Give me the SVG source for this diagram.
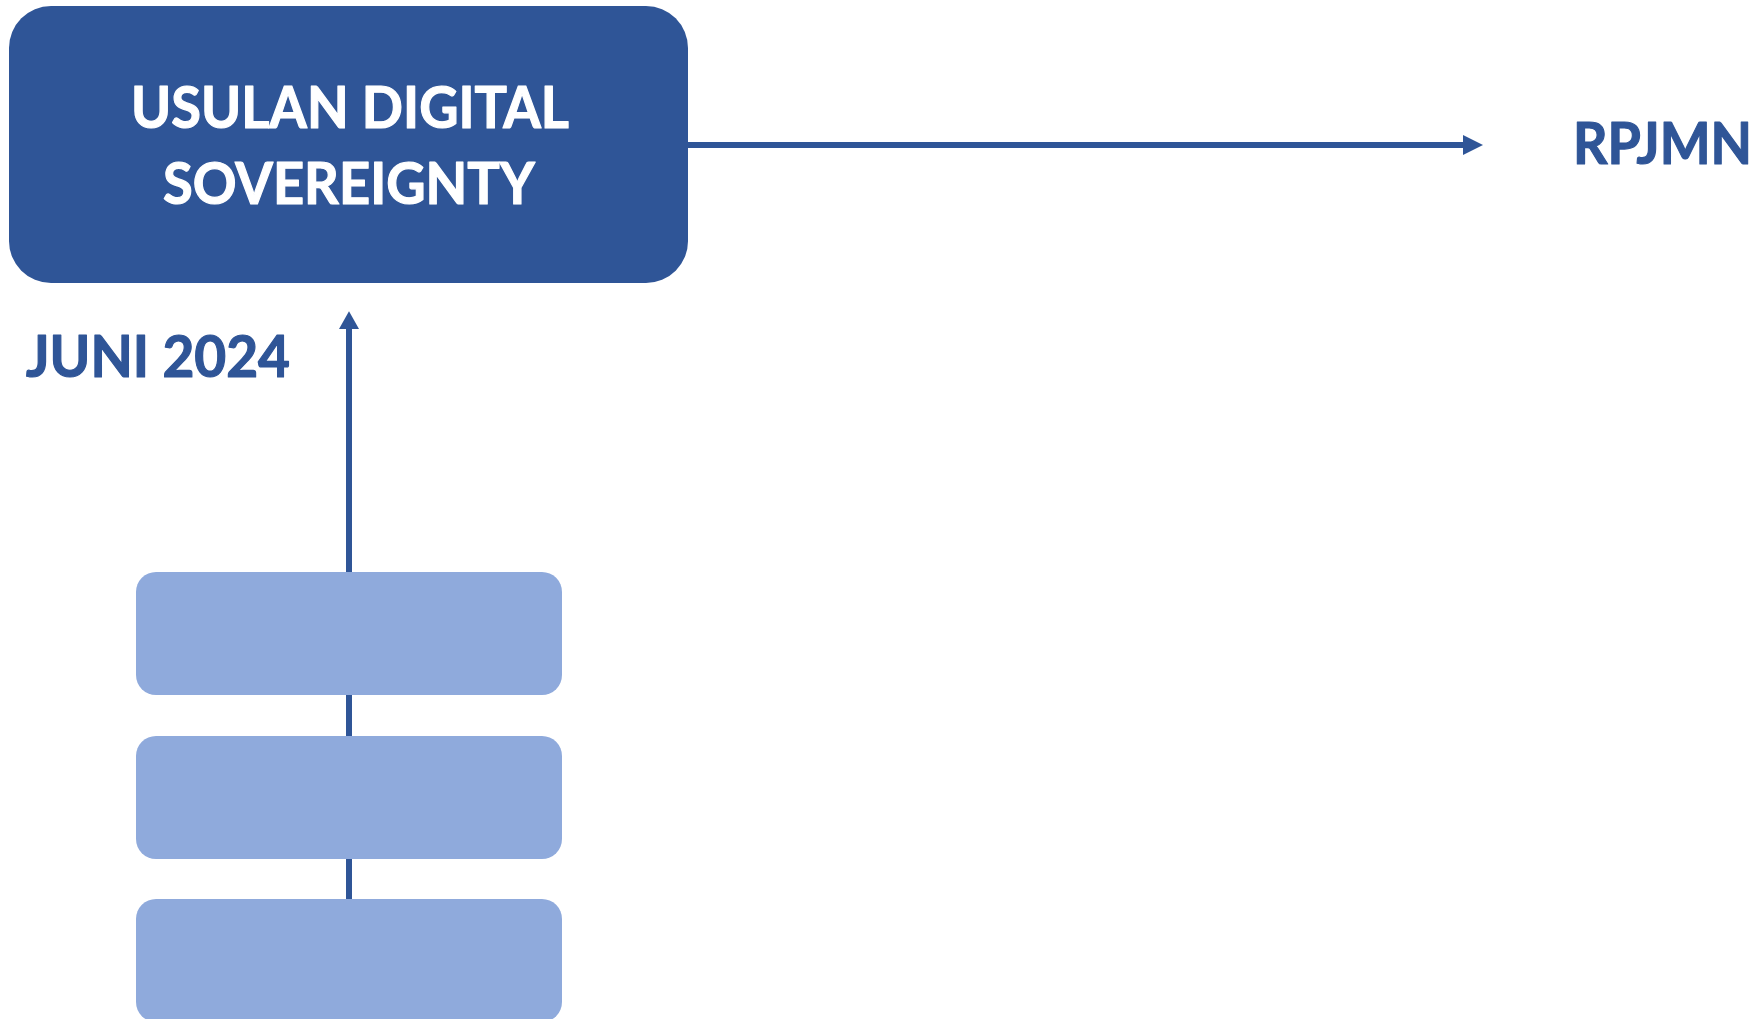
<svg xmlns="http://www.w3.org/2000/svg" width="1762" height="1019" viewBox="0 0 1762 1019">
  <style>
    .label { font-family: Lato, "Open Sans", "Liberation Sans", sans-serif; font-weight: 700; font-size: 57px; stroke-width: 1.2px; stroke-linejoin: round; }
    .head { fill: #FFFFFF; stroke: #FFFFFF; }
    .dark { fill: #2F5597; }
    .ink { stroke: #2F5597; }
    .step { fill: #8FAADC; }
    .wire { stroke: #2F5597; stroke-width: 6; fill: none; }
  </style>
  <defs>
    <marker id="arrow" markerUnits="userSpaceOnUse" markerWidth="20" markerHeight="20" viewBox="0 0 18 18" refX="0" refY="9" orient="auto">
      <path d="M0,0 L18,9 L0,18 Z" fill="#2F5597"/>
    </marker>
    <marker id="arrowUp" markerUnits="userSpaceOnUse" markerWidth="20" markerHeight="20" viewBox="0 0 16 18" refX="0" refY="9" orient="auto">
      <path d="M0,0 L16,9 L0,18 Z" fill="#2F5597"/>
    </marker>
  </defs>

  <!-- connectors -->
  <g id="connectors">
    <line class="wire" x1="688" y1="145" x2="1463" y2="145" marker-end="url(#arrow)"/>
    <line class="wire" x1="349" y1="899" x2="349" y2="329" marker-end="url(#arrowUp)"/>
  </g>

  <!-- main proposal box -->
  <g id="usulan">
    <rect class="dark" x="9" y="6" width="679" height="277" rx="42" ry="42"/>
    <text class="label head" x="131" y="128" textLength="438" lengthAdjust="spacingAndGlyphs">USULAN DIGITAL</text>
    <text class="label head" x="163" y="204" textLength="372" lengthAdjust="spacingAndGlyphs">SOVEREIGNTY</text>
  </g>

  <g id="rpjmn">
    <text class="label dark ink" x="1573" y="164" textLength="179" lengthAdjust="spacingAndGlyphs">RPJMN</text>
  </g>

  <g id="juni-2024">
    <text class="label dark ink" x="26" y="377" textLength="264" lengthAdjust="spacingAndGlyphs">JUNI 2024</text>
  </g>

  <!-- stacked steps -->
  <g id="step-1">
    <rect class="step" x="136" y="572" width="426" height="123" rx="20" ry="20"/>
  </g>
  <g id="step-2">
    <rect class="step" x="136" y="736" width="426" height="123" rx="20" ry="20"/>
  </g>
  <g id="step-3">
    <rect class="step" x="136" y="899" width="426" height="123" rx="20" ry="20"/>
  </g>
</svg>
